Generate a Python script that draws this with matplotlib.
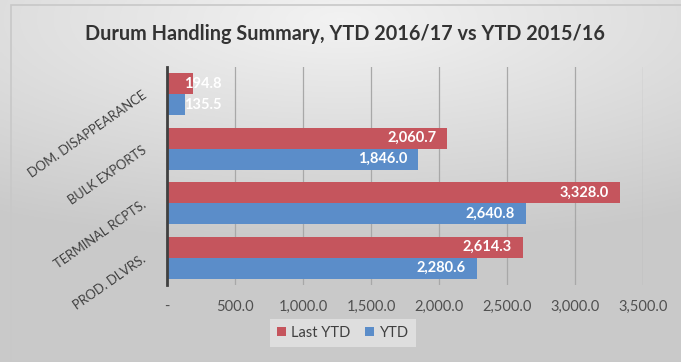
import numpy as np
import matplotlib
matplotlib.use("Agg")
import matplotlib.pyplot as plt
from matplotlib.patches import Rectangle
from matplotlib.ticker import FuncFormatter

categories = ["DOM. DISAPPEARANCE", "BULK EXPORTS", "TERMINAL RCPTS.", "PROD. DLVRS."]
last_ytd = [194.8, 2060.7, 3328.0, 2614.3]
ytd = [135.5, 1846.0, 2640.8, 2280.6]
xticks = [0, 500, 1000, 1500, 2000, 2500, 3000, 3500]

plt.rcParams['font.family'] = ['Lato', 'DejaVu Sans']

W, H = 681, 362
fig = plt.figure(figsize=(W/100, H/100), dpi=100)

# background gradient
bg = fig.add_axes([0, 0, 1, 1], zorder=-10)
yy, xx = np.mgrid[0:1:200j, 0:1:300j]
r = np.sqrt(((xx-0.5)*1.0)**2 + ((yy-0.05)*1.6)**2)
g = 0.95 - 0.16*np.clip(r, 0, 1)
img = np.dstack([g, g, g])
bg.imshow(img, extent=[0, 1, 0, 1], aspect='auto', origin='upper')
bg.add_patch(Rectangle((11/W, 0), 1, 1 - 5/H, fill=False, ec='#c8c8c8', lw=1.2, transform=bg.transAxes))
bg.set_axis_off()

left, right = 167/W, 643/W
top, bottom = 1 - 67/H, 1 - 285/H
ax = fig.add_axes([left, bottom, right-left, top-bottom])
ax.patch.set_alpha(0)

n = len(categories)
y = np.arange(n)
h = 0.385
red = '#C5555D'
blue = '#5B8DC9'
ax.barh(y - h/2, last_ytd, height=h, color=red, label='Last YTD', zorder=3)
ax.barh(y + h/2, ytd, height=h, color=blue, label='YTD', zorder=3)

for vals, off in ((last_ytd, -h/2), (ytd, h/2)):
    for i, v in enumerate(vals):
        txt = f"{v:,.1f}"
        if v > 600:
            ax.annotate(txt, (v, i+off), xytext=(-8, 0), textcoords='offset points',
                        ha='right', va='center', color='white', fontsize=10.5,
                        fontweight='bold', zorder=5)
        else:
            ax.annotate(txt, (0, i+off), xytext=(12, 0), textcoords='offset points',
                        ha='left', va='center', color='white', fontsize=10.5,
                        fontweight='bold', zorder=5)

ax.set_ylim(n - 0.5, -0.5)
ax.set_xlim(0, 3500)
ax.set_xticks(xticks)
ax.xaxis.set_major_formatter(FuncFormatter(lambda v, p: '-' if v == 0 else f"{v:,.1f}"))
ax.grid(axis='x', color='#a8a8a8', lw=0.9, zorder=0)
ax.tick_params(axis='x', length=0, pad=11, labelsize=10.5, labelcolor='#505050')
ax.set_yticks(y)
ax.set_yticklabels(categories, rotation=35, rotation_mode='anchor', ha='right', va='center',
                   fontsize=9.3, color='#404040')
ax.tick_params(axis='y', length=0, pad=16)
for s in ['top', 'right', 'bottom']:
    ax.spines[s].set_visible(False)
ax.spines['left'].set_color('#404040')
ax.spines['left'].set_linewidth(2)
ax.spines['left'].set_zorder(4)

fig.text(345/W, 1 - 34/H, "Durum Handling Summary, YTD 2016/17 vs YTD 2015/16",
         ha='center', va='center', fontsize=14.3, color='#333333', fontweight='bold')

leg = fig.legend(loc='center', bbox_to_anchor=(343/W, 1 - 333/H), ncol=2, frameon=True,
                 fontsize=10.5, handlelength=0.6, handleheight=0.6, handletextpad=0.4,
                 columnspacing=1.0, borderpad=0.5, fancybox=False)
leg.get_frame().set_facecolor('#e4e4e4')
leg.get_frame().set_edgecolor('none')
leg.get_frame().set_alpha(0.8)
for t in leg.get_texts():
    t.set_color('#404040')

fig.savefig('out.png', dpi=100)
